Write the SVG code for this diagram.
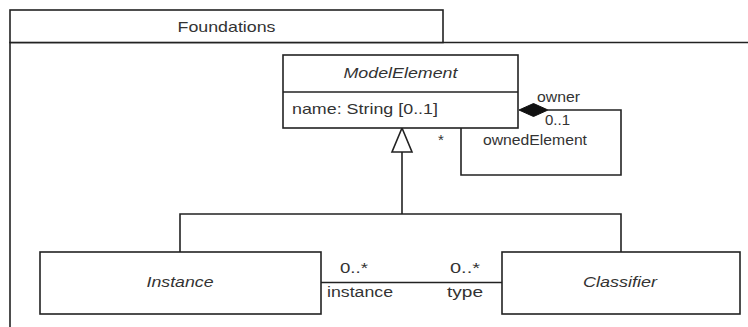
<svg xmlns="http://www.w3.org/2000/svg" width="748" height="327" viewBox="0 0 748 327">
<style>
.ln{fill:none;stroke:#222;stroke-width:1.6}
.box{fill:#fff;stroke:#222;stroke-width:1.6}
text{font-family:"Liberation Sans",Arial,sans-serif;fill:#333;font-size:15px}
.it{font-style:italic}
.lb{font-size:14px}
</style>
<rect width="748" height="327" fill="#fff"/>
<g id="package">
<path class="ln" d="M10,330 V42.5 H760"/>
<rect class="box" x="10" y="10" width="433" height="32.5"/>
<text x="226.5" y="32" text-anchor="middle" textLength="98" lengthAdjust="spacingAndGlyphs">Foundations</text>
</g>
<g id="connectors">
<path class="ln" d="M548,110 H621 V175 H461 V128"/>
<polygon points="519,110 533.5,103.5 548,110 533.5,116.5" fill="#111" stroke="#111" stroke-width="1"/>
<path class="ln" d="M402,152 V214 M180,252 V214 H621 V252"/>
<polygon points="402,128 392,152 412,152" fill="#fff" stroke="#222" stroke-width="1.6"/>
<path class="ln" d="M321,282.5 H502"/>
<text class="lb" x="537" y="102" textLength="43" lengthAdjust="spacingAndGlyphs">owner</text>
<text class="lb" x="545" y="125" textLength="25" lengthAdjust="spacingAndGlyphs">0..1</text>
<text class="lb" x="483" y="145" textLength="104" lengthAdjust="spacingAndGlyphs">ownedElement</text>
<text x="438" y="145" font-size="9px">*</text>
<text class="lb" x="340" y="273" textLength="28" lengthAdjust="spacingAndGlyphs">0..*</text>
<text class="lb" x="327" y="297" textLength="66" lengthAdjust="spacingAndGlyphs">instance</text>
<text class="lb" x="450" y="273" textLength="30" lengthAdjust="spacingAndGlyphs">0..*</text>
<text class="lb" x="447" y="297" textLength="36" lengthAdjust="spacingAndGlyphs">type</text>
</g>
<g id="ModelElement">
<rect class="box" x="283" y="55" width="235" height="73"/>
<path class="ln" d="M283,92 H518"/>
<text class="it" x="400.5" y="78" text-anchor="middle" textLength="114" lengthAdjust="spacingAndGlyphs">ModelElement</text>
<text x="292" y="114" textLength="146" lengthAdjust="spacingAndGlyphs">name: String [0..1]</text>
</g>
<g id="Instance">
<rect class="box" x="40" y="252" width="281" height="62"/>
<text class="it" x="180" y="287" text-anchor="middle" textLength="67" lengthAdjust="spacingAndGlyphs">Instance</text>
</g>
<g id="Classifier">
<rect class="box" x="502" y="252" width="238" height="62"/>
<text class="it" x="620" y="287" text-anchor="middle" textLength="74" lengthAdjust="spacingAndGlyphs">Classifier</text>
</g>
</svg>
